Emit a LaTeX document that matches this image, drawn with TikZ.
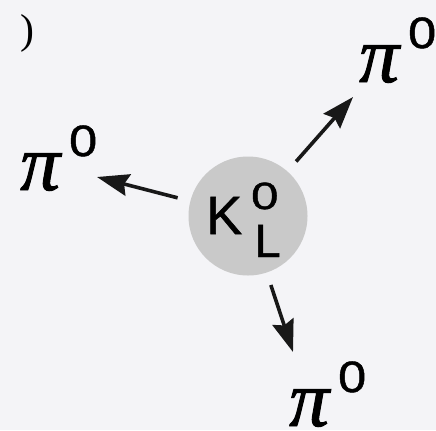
\documentclass[tikz,border=0pt]{standalone}
\usepackage{fontspec}
\setmainfont{Liberation Serif}[ItalicFeatures={FakeBold=1.2}]
\newfontfamily\lsans{Liberation Sans}[FakeBold=1]
\usetikzlibrary{arrows.meta}
\definecolor{bgcol}{RGB}{244,244,247}
\definecolor{kgrey}{RGB}{201,201,201}
\definecolor{arrcol}{RGB}{24,24,24}
\newcommand\pizero{{\fontsize{80}{80}\selectfont\itshape π}\kern9bp\raisebox{34bp}{\lsans\fontsize{44}{44}\selectfont\scalebox{1.15}[1]{0}}}
\begin{document}
\begin{tikzpicture}[x=1bp,y=-1bp,
  kcirc/.style={circle,fill=kgrey,minimum size=119bp,inner sep=0pt},
  pilab/.style={anchor=base west,inner sep=0pt},
  decay/.style={draw=arrcol,line width=3.6bp,shorten <=13bp,
    -{Stealth[length=32bp,width=22bp,inset=4bp]}}]
\useasboundingbox (0,0) rectangle (436,430);
\fill[bgcol] (0,0) rectangle (436,430);
\node[kcirc] (k) at (248,216) {};
\node[anchor=base west,inner sep=0pt] (klab) at (206,234)
  {\lsans\fontsize{54}{54}\selectfont K\kern9bp\rlap{\raisebox{25bp}{\fontsize{38}{38}\selectfont\scalebox{1.3}[1]{0}}}\kern3.5bp\raisebox{-23bp}{\fontsize{47}{47}\selectfont L}};
\node[anchor=center,inner sep=0pt,font=\fontsize{42}{42}\selectfont] (paren) at (27,33) {)};
\node[pilab] (pa) at (359,82) {\pizero};
\node[pilab] (pb) at (20,190) {\pizero};
\node[pilab] (pc) at (289,426) {\pizero};
\coordinate (ta) at (353,97);
\coordinate (tb) at (97,177);
\coordinate (tc) at (293,352);
\draw[decay] (k) -- (ta);
\draw[decay] (k) -- (tb);
\draw[decay] (k) -- (tc);
\end{tikzpicture}
\end{document}
